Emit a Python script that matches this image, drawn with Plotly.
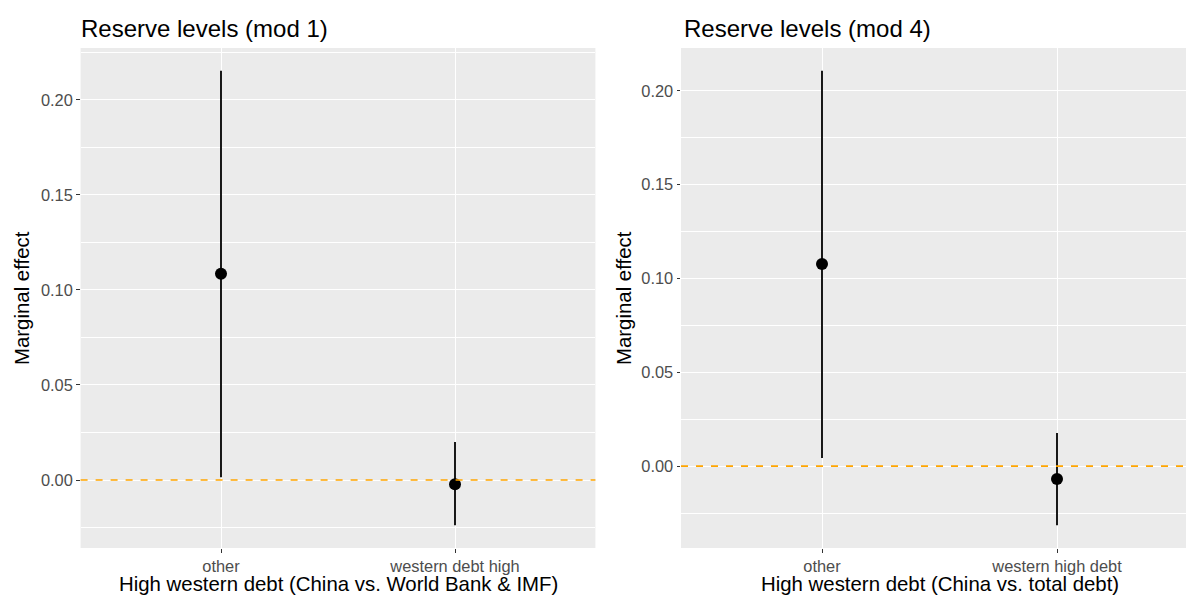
import plotly.graph_objects as go

# ---- data ----
cats_left = ["other", "western debt high"]
est_left = [0.1085, -0.0022]
lo_left = [0.0015, -0.0238]
hi_left = [0.2153, 0.0200]

cats_right = ["other", "western high debt"]
est_right = [0.1077, -0.0069]
lo_right = [0.0043, -0.0315]
hi_right = [0.2107, 0.0176]

titles = ["Reserve levels (mod 1)", "Reserve levels (mod 4)"]
xtitles = ["High western debt (China vs. World Bank & IMF)",
           "High western debt (China vs. total debt)"]
ytitle = "Marginal effect"

W, H = 1186, 597
FONT = "Liberation Sans, Arial, sans-serif"

fig = go.Figure()

def add_panel(cats, est, lo, hi, xa, ya):
    fig.add_trace(go.Scatter(
        x=cats, y=est, mode="markers",
        marker=dict(color="black", size=12),
        error_y=dict(type="data", symmetric=False,
                     array=[h - e for h, e in zip(hi, est)],
                     arrayminus=[e - l for e, l in zip(est, lo)],
                     color="black", thickness=1.8, width=0),
        xaxis=xa, yaxis=ya, showlegend=False, hoverinfo="skip"))
    fig.add_shape(type="line", xref=f"{xa} domain", yref=ya,
                  x0=0, x1=1, y0=0, y1=0,
                  line=dict(color="#FFA500", width=1.6, dash="7px,8px"))

add_panel(cats_left, est_left, lo_left, hi_left, "x", "y")
add_panel(cats_right, est_right, lo_right, hi_right, "x2", "y2")

def yrange(lo, hi):
    a, b = min(lo), max(hi)
    pad = (b - a) * 0.05
    return [a - pad, b + pad]

left_x0, left_x1 = 80.6, 595.4
right_x0, right_x1 = 681.0, 1186.0
plot_top, plot_bot = 48, 548
unit_right = 235.0
right_range_end = -0.6 + (right_x1 - right_x0) / unit_right

ydom = [1 - plot_bot / H, 1 - plot_top / H]

tickfont = dict(family=FONT, size=16.4, color="#4D4D4D")
common_x = dict(type="category", showgrid=True, gridcolor="white", gridwidth=1.1,
                ticks="outside", ticklen=3.5, tickcolor="#333333", tickwidth=1.1,
                tickfont=tickfont, zeroline=False, showline=False, fixedrange=True)
common_y = dict(showgrid=True, gridcolor="white", gridwidth=1.1,
                tick0=0, dtick=0.05, tickformat=".2f",
                ticks="outside", ticklen=3.5, tickcolor="#333333", tickwidth=1.1,
                tickfont=tickfont, zeroline=False, showline=False,
                minor=dict(dtick=0.025, tick0=0, showgrid=True, gridcolor="white", gridwidth=0.55),
                fixedrange=True)

fig.update_layout(
    width=W, height=H,
    margin=dict(l=0, r=0, t=0, b=0),
    paper_bgcolor="white", plot_bgcolor="#EBEBEB",
    xaxis=dict(domain=[left_x0 / W, left_x1 / W], range=[-0.6, 1.6], **common_x),
    yaxis=dict(domain=ydom, range=yrange(lo_left, hi_left), anchor="x", **common_y),
    xaxis2=dict(domain=[right_x0 / W, right_x1 / W], range=[-0.6, right_range_end],
                anchor="y2", **common_x),
    yaxis2=dict(domain=ydom, range=yrange(lo_right, hi_right), anchor="x2", **common_y),
)

ann = []
for i, (x0, x1) in enumerate([(left_x0, left_x1), (right_x0, 1198.0)]):
    ann.append(dict(text=titles[i], x=(x0 - 1.5) / W if i == 0 else (x0 + 1.0) / W,
                    y=1 - 28 / H, xref="paper", yref="paper",
                    xanchor="left", yanchor="middle", showarrow=False,
                    font=dict(family=FONT, size=24, color="black")))
    ann.append(dict(text=xtitles[i], x=((x0 + x1) / 2) / W, y=1 - 584 / H,
                    xref="paper", yref="paper", xanchor="center", yanchor="middle",
                    showarrow=False, font=dict(family=FONT, size=20.4, color="black")))
for xc in [22, 624]:
    ann.append(dict(text=ytitle, x=xc / W, y=1 - ((plot_top + plot_bot) / 2) / H,
                    xref="paper", yref="paper", xanchor="center", yanchor="middle",
                    textangle=-90, showarrow=False,
                    font=dict(family=FONT, size=20.4, color="black")))
fig.update_layout(annotations=ann)

fig.write_html("out.html", config={"displayModeBar": False})
